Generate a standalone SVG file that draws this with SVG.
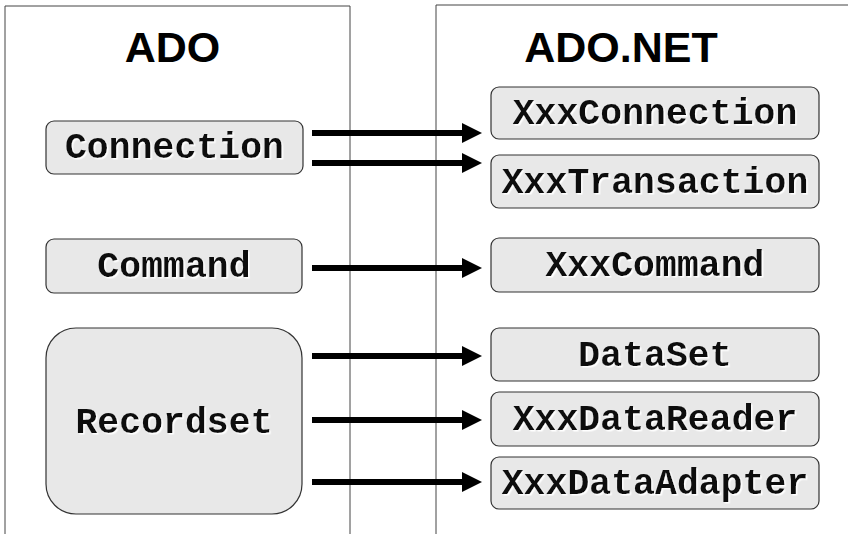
<svg xmlns="http://www.w3.org/2000/svg" width="848" height="534" viewBox="0 0 848 534">
<style>
.panel{fill:none;stroke:#444;stroke-width:1}
.box{fill:#e8e8e8;stroke:#333;stroke-width:1.2}
.lbl{font-family:"Liberation Mono","Courier New",monospace;font-weight:bold;font-size:36.5px;fill:#111;text-anchor:middle;filter:url(#sh)}
.title{font-family:"Liberation Sans",Arial,sans-serif;font-weight:bold;font-size:43px;fill:#000;text-anchor:middle}
.conn{stroke:#000;stroke-width:6;fill:none;marker-end:url(#ah)}
</style>
<defs>
<marker id="ah" viewBox="0 0 20 20" markerWidth="20" markerHeight="20" markerUnits="userSpaceOnUse" refX="2" refY="10" orient="auto">
<path d="M0,0 L20,10 L0,20 z" fill="#000"/>
</marker>
<filter id="sh" x="-5%" y="-20%" width="110%" height="140%">
<feDropShadow dx="1.5" dy="1.5" stdDeviation="0" flood-color="#fff" flood-opacity="1"/>
</filter>
</defs>
<rect width="848" height="534" fill="#fff"/>
<g id="panel-ado">
<path class="panel" d="M5,534 V6 H350 V534"/>
<text class="title" x="172.5" y="62">ADO</text>
</g>
<g id="panel-adonet">
<path class="panel" d="M436,534 V5 H860"/>
<text class="title" x="621" y="62">ADO.NET</text>
</g>
<g id="n-connection"><rect class="box" x="46" y="121" width="257" height="53" rx="8"/><text class="lbl" x="174.5" y="158">Connection</text></g>
<g id="n-command"><rect class="box" x="46" y="239" width="256" height="54" rx="8"/><text class="lbl" x="174" y="277">Command</text></g>
<g id="n-recordset"><rect class="box" x="46" y="328" width="256" height="186" rx="30"/><text class="lbl" x="174" y="433">Recordset</text></g>
<g id="n-xxxconnection"><rect class="box" x="491" y="87" width="328" height="52" rx="8"/><text class="lbl" x="655" y="124">XxxConnection</text></g>
<g id="n-xxxtransaction"><rect class="box" x="491" y="155" width="328" height="53" rx="8"/><text class="lbl" x="655" y="193">XxxTransaction</text></g>
<g id="n-xxxcommand"><rect class="box" x="491" y="238" width="328" height="54" rx="8"/><text class="lbl" x="655" y="276">XxxCommand</text></g>
<g id="n-dataset"><rect class="box" x="491" y="328" width="328" height="53" rx="8"/><text class="lbl" x="655" y="366">DataSet</text></g>
<g id="n-xxxdatareader"><rect class="box" x="491" y="392" width="328" height="54" rx="8"/><text class="lbl" x="655" y="430">XxxDataReader</text></g>
<g id="n-xxxdataadapter"><rect class="box" x="491" y="457" width="328" height="52" rx="8"/><text class="lbl" x="655" y="494">XxxDataAdapter</text></g>
<g id="connectors">
<line class="conn" x1="312" y1="133" x2="464" y2="133"/>
<line class="conn" x1="312" y1="163" x2="464" y2="163"/>
<line class="conn" x1="312" y1="268" x2="464" y2="268"/>
<line class="conn" x1="312" y1="356" x2="464" y2="356"/>
<line class="conn" x1="312" y1="420" x2="464" y2="420"/>
<line class="conn" x1="312" y1="482" x2="464" y2="482"/>
</g>
</svg>
